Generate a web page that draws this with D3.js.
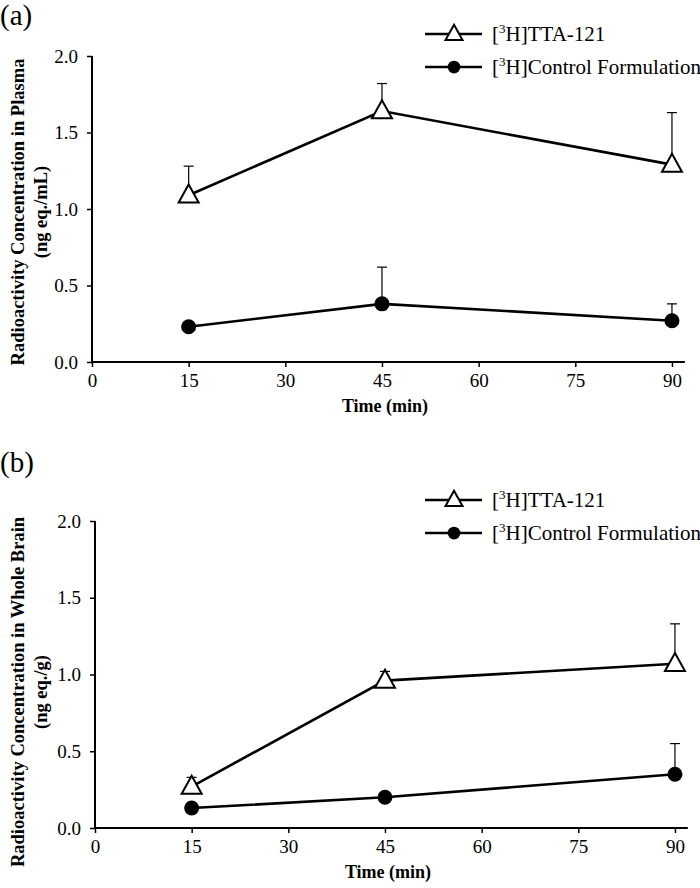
<!DOCTYPE html>
<html>
<head>
<meta charset="utf-8">
<script src="https://cdn.jsdelivr.net/npm/d3@7"></script>
<style>
  html, body { margin: 0; padding: 0; background: #fff; }
  svg { display: block; }
  svg text, svg tspan { font-family: 'Liberation Serif', 'Times New Roman', 'DejaVu Serif', serif !important; fill: #000; }
</style>
</head>
<body>
<svg id="chart" width="700" height="888"></svg>
<script>
// ---- data ----
const times = [15, 45, 90];
const xTicks = [0, 15, 30, 45, 60, 75, 90];
const yTicks = [0.0, 0.5, 1.0, 1.5, 2.0];

// Panel (a) plasma
const plasmaTTA = [1.09, 1.64, 1.29];
const plasmaTTAsd = [0.19, 0.18, 0.34];
const plasmaCtrl = [0.23, 0.38, 0.27];
const plasmaCtrlSd = [0.0, 0.24, 0.11];

// Panel (b) whole brain
const brainTTA = [0.27, 0.96, 1.07];
const brainTTAsd = [0.06, 0.06, 0.26];
const brainCtrl = [0.13, 0.20, 0.35];
const brainCtrlSd = [0.0, 0.02, 0.20];

const seriesNames = ["TTA-121", "Control Formulation"];

const FONT = "'Liberation Serif', 'Times New Roman', serif";
const svg = d3.select("#chart").style("font-family", FONT);

function drawPanel(cfg) {
  const g = svg.append("g");
  const x = d3.scaleLinear().domain([0, 92]).range([cfg.x0, cfg.x0 + 92 * cfg.pxPerMin]);
  const y = d3.scaleLinear().domain([0, 2]).range([cfg.yBottom, cfg.yTop]);

  // panel letter
  g.append("text").attr("x", 0).attr("y", cfg.letterY)
    .attr("font-size", 29).style("font-family", FONT).text(cfg.letter);

  // axes
  const xAxis = d3.axisBottom(x).tickValues(xTicks).tickSize(5).tickPadding(7)
    .tickFormat(d3.format("d"));
  const gx = g.append("g").attr("transform", `translate(0,${cfg.yBottom})`).call(xAxis)
    .attr("font-family", null).attr("font-size", null);
  gx.select(".domain").attr("stroke-width", 2).attr("d", `M${x(0)},0H${x(92)}`);
  gx.selectAll(".tick line").attr("stroke-width", 1.5);
  gx.selectAll(".tick text").attr("font-size", 19).style("font-family", FONT);

  const yAxis = d3.axisLeft(y).tickValues(yTicks).tickSize(5).tickPadding(9)
    .tickFormat(d3.format(".1f"));
  const gy = g.append("g").attr("transform", `translate(${cfg.x0},0)`).call(yAxis)
    .attr("font-family", null).attr("font-size", null);
  gy.select(".domain").attr("stroke-width", 2).attr("d", `M0,${y(2)}V${y(0)}`);
  gy.selectAll(".tick line").attr("stroke-width", 1.5);
  gy.selectAll(".tick text").attr("font-size", 19).style("font-family", FONT);

  // axis titles
  g.append("text").attr("x", (x(0) + x(90)) / 2 + 3).attr("y", cfg.yBottom + 50)
    .attr("text-anchor", "middle").attr("font-size", 18).attr("font-weight", "bold")
    .style("font-family", FONT).text("Time (min)");

  g.append("text").attr("transform", `translate(24,${cfg.titleCy}) rotate(-90)`)
    .attr("text-anchor", "middle").attr("font-size", 18.5).attr("font-weight", "bold")
    .style("font-family", FONT).text(cfg.yTitle1);
  g.append("text").attr("transform", `translate(47,${cfg.titleCy}) rotate(-90)`)
    .attr("text-anchor", "middle").attr("font-size", 18.5).attr("font-weight", "bold")
    .style("font-family", FONT).text(cfg.yTitle2);

  const line = d3.line().x(d => x(d.t)).y(d => y(d.v));
  const series = [
    { vals: cfg.tta, sd: cfg.ttaSd, type: "tri" },
    { vals: cfg.ctrl, sd: cfg.ctrlSd, type: "circ" }
  ];

  series.forEach(s => {
    const pts = times.map((t, i) => ({ t, v: s.vals[i], sd: s.sd[i] }));
    // error bars (upper only)
    pts.filter(p => p.sd > 0).forEach(p => {
      g.append("line").attr("x1", x(p.t)).attr("x2", x(p.t))
        .attr("y1", y(p.v)).attr("y2", y(p.v + p.sd))
        .attr("stroke", "#000").attr("stroke-width", 1.2);
      g.append("line").attr("x1", x(p.t) - 5).attr("x2", x(p.t) + 5)
        .attr("y1", y(p.v + p.sd)).attr("y2", y(p.v + p.sd))
        .attr("stroke", "#000").attr("stroke-width", 1.2);
    });
    g.append("path").datum(pts).attr("d", line)
      .attr("fill", "none").attr("stroke", "#000").attr("stroke-width", 2.6);
    pts.forEach(p => drawMarker(g, s.type, x(p.t), y(p.v)));
  });

  // legend
  const lg = g.append("g");
  const rows = [
    { type: "tri", name: seriesNames[0], yy: cfg.legendY },
    { type: "circ", name: seriesNames[1], yy: cfg.legendY + 33 }
  ];
  rows.forEach(r => {
    lg.append("line").attr("x1", cfg.legendX).attr("x2", cfg.legendX + 57)
      .attr("y1", r.yy).attr("y2", r.yy).attr("stroke", "#000").attr("stroke-width", 2.6);
    drawMarker(lg, r.type, cfg.legendX + 29, r.yy, 0.85);
    const t = lg.append("text").attr("x", cfg.legendX + 67).attr("y", r.yy + 7)
      .attr("font-size", 21).style("font-family", FONT);
    t.append("tspan").text("[");
    t.append("tspan").attr("font-size", 13).attr("dy", -8).text("3");
    t.append("tspan").attr("dy", 8).text("H]" + r.name);
  });
}

function drawMarker(g, type, cx, cy, k = 1) {
  if (type === "tri") {
    const w = 20 * k, h = 18 * k;
    g.append("path")
      .attr("d", `M${cx},${cy - h * 0.6}L${cx + w / 2},${cy + h * 0.4}L${cx - w / 2},${cy + h * 0.4}Z`)
      .attr("fill", "#fff").attr("stroke", "#000").attr("stroke-width", 2);
  } else {
    g.append("circle").attr("cx", cx).attr("cy", cy).attr("r", 7.5 * k).attr("fill", "#000");
  }
}

drawPanel({
  letter: "(a)", letterY: 25,
  x0: 92, pxPerMin: 6.444, yBottom: 362, yTop: 56,
  titleCy: 212,
  yTitle1: "Radioactivity Concentration in Plasma", yTitle2: "(ng eq./mL)",
  tta: plasmaTTA, ttaSd: plasmaTTAsd, ctrl: plasmaCtrl, ctrlSd: plasmaCtrlSd,
  legendX: 425, legendY: 34
});

drawPanel({
  letter: "(b)", letterY: 472,
  x0: 95, pxPerMin: 6.444, yBottom: 828, yTop: 521,
  titleCy: 692,
  yTitle1: "Radioactivity Concentration in Whole Brain", yTitle2: "(ng eq./g)",
  tta: brainTTA, ttaSd: brainTTAsd, ctrl: brainCtrl, ctrlSd: brainCtrlSd,
  legendX: 425, legendY: 500
});
</script>
</body>
</html>
